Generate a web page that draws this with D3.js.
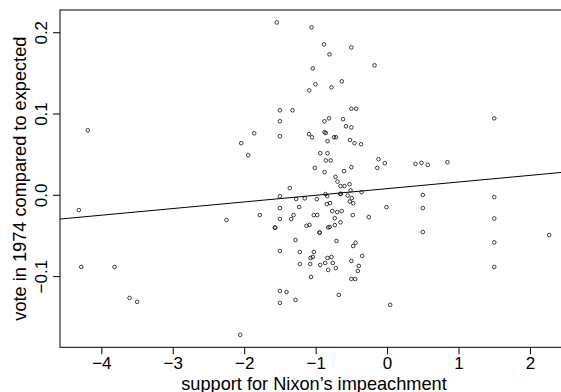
<!DOCTYPE html>
<html>
<head>
<meta charset="utf-8">
<script src="https://cdn.jsdelivr.net/npm/d3@7"></script>
<style>
  html, body { margin: 0; padding: 0; background: #fff; }
  svg { display: block; }
  text { font-family: "Liberation Sans", Arial, Helvetica, sans-serif; fill: #000; }
</style>
</head>
<body>
<svg id="chart" width="561" height="392"></svg>
<script>
// support for Nixon's impeachment (x) and vote in 1974 compared to expected (y)
const supportImpeach = [
  -4.189, -4.315, -4.281, -3.815, -3.605, -3.498, -2.248, -2.056, -2.042, -1.944,
  -1.860, -1.782, -1.572, -1.566, -1.544, -1.5, -1.5, -1.5, -1.5, -1.5,
  -1.5, -1.5, -1.5, -1.5, -1.408, -1.362, -1.342, -1.324, -1.310, -1.282,
  -1.282, -1.272, -1.230, -1.222, -1.222, -1.152, -1.128, -1.090, -1.093, -1.086,
  -1.072, -1.076, -1.065, -1.058, -1.051, -1.040, -1.040, -1.026, -1.026, -1.012,
  -1.002, -0.984, -0.978, -0.946, -0.944, -0.936, -0.936, -0.883, -0.876, -0.876,
  -0.858, -0.876, -0.866, -0.862, -0.858, -0.838, -0.844, -0.834, -0.834, -0.834,
  -0.824, -0.824, -0.813, -0.806, -0.803, -0.799, -0.789, -0.778, -0.778, -0.768,
  -0.760, -0.743, -0.715, -0.732, -0.732, -0.722, -0.718, -0.708, -0.698, -0.694,
  -0.676, -0.656, -0.648, -0.652, -0.652, -0.635, -0.634, -0.617, -0.603, -0.596,
  -0.575, -0.551, -0.526, -0.522, -0.519, -0.512, -0.5, -0.5, -0.5, -0.5,
  -0.5, -0.5, -0.494, -0.480, -0.474, -0.474, -0.456, -0.446, -0.442, -0.432,
  -0.410, -0.396, -0.365, -0.358, -0.348, -0.256, -0.176, -0.137, -0.120, -0.032,
  -0.008, 0.043, 0.397, 0.481, 0.570, 0.5, 0.5, 0.5, 0.845, 1.5,
  1.5, 1.5, 1.5, 1.5, 2.269
];
const voteVsExpected = [
  0.0794, -0.0188, -0.0887, -0.0887, -0.1268, -0.1317, -0.0311, -0.1722, 0.0635, 0.0487,
  0.0757, -0.0249, -0.0401, -0.0405, 0.2120, 0.1040, 0.0905, 0.0721, -0.0018, -0.0163,
  -0.0298, -0.0691, -0.1184, -0.1329, -0.1197, 0.0082, -0.0298, 0.1040, -0.0249, -0.0556,
  -0.1292, -0.0052, -0.0150, -0.0703, -0.0851, -0.0043, -0.0381, 0.1285, 0.0746, -0.0371,
  -0.0777, -0.0851, -0.1010, 0.2060, 0.0708, 0.1555, -0.0765, -0.0249, -0.0702, 0.0331,
  0.1360, -0.0053, -0.0249, -0.0463, -0.0466, 0.0512, -0.0863, 0.1850, 0.0905, 0.0771,
  0.0761, 0.0279, -0.0838, 0.0009, 0.0423, -0.0018, -0.0114, 0.0660, 0.0512, -0.0777,
  -0.0401, -0.0924, 0.0941, 0.1728, -0.0395, -0.0102, 0.0423, 0.1322, -0.0765, -0.0200,
  -0.0838, 0.0708, 0.0708, -0.0288, -0.0372, 0.0221, -0.0902, -0.0568, -0.0212, 0.0163,
  -0.1231, 0.0012, 0.0012, 0.0108, -0.0338, -0.0200, 0.1396, 0.0930, 0.0291, 0.0108,
  0.0843, -0.0009, 0.0131, -0.0082, 0.0675, 0.0055, 0.1813, 0.1059, 0.0829, 0.0340,
  -0.0814, -0.1035, -0.0041, -0.0249, -0.0104, -0.0630, 0.0635, -0.1035, -0.0589, 0.1059,
  -0.0937, -0.0875, 0.0622, 0.0033, -0.0752, -0.0274, 0.1593, 0.0331, 0.0439, 0.0389,
  -0.0151, -0.1354, 0.0381, 0.0393, 0.0368, -0.0002, -0.0163, -0.0458, 0.0401, 0.0941,
  -0.0028, -0.0291, -0.0585, -0.0887, -0.0495
];
const fitCoef = [0.0076, 0.00817]; // intercept, slope
const xTicks = [-4, -3, -2, -1, 0, 1, 2];
const xTickLabels = ["\u22124", "\u22123", "\u22122", "\u22121", "0", "1", "2"];
const yTicks = [-0.1, 0.0, 0.1, 0.2];
const yTickLabels = ["\u22120.1", "0.0", "0.1", "0.2"];
const xTitle = "support for Nixon\u2019s impeachment";
const yTitle = "vote in 1974 compared to expected";

(function () {
const svg = d3.select("#chart");
const pLeft = 60, pTop = 10, pBottom = 347.3, pRight = 568;
const fsTick = 17, fsTitle = 18.2;

function padExtent(arr) {
  const [a, b] = d3.extent(arr);
  const p = (b - a) * 0.04;
  return [a - p, b + p];
}
const x = d3.scaleLinear().domain(padExtent(supportImpeach)).range([pLeft, pRight]);
const y = d3.scaleLinear().domain(padExtent(voteVsExpected)).range([pBottom, pTop]);

svg.append("defs").append("clipPath").attr("id", "clip")
  .append("rect").attr("x", pLeft).attr("y", pTop)
  .attr("width", pRight - pLeft).attr("height", pBottom - pTop);

// regression line
const xd = x.domain();
svg.append("line")
  .attr("clip-path", "url(#clip)")
  .attr("x1", x(xd[0])).attr("y1", y(fitCoef[0] + fitCoef[1] * xd[0]))
  .attr("x2", x(xd[1])).attr("y2", y(fitCoef[0] + fitCoef[1] * xd[1]))
  .attr("stroke", "#000").attr("stroke-width", 1);

// points
const pts = supportImpeach.map((v, i) => [v, voteVsExpected[i]]);
svg.append("g").selectAll("circle").data(pts).join("circle")
  .attr("cx", d => x(d[0])).attr("cy", d => y(d[1]))
  .attr("r", 1.8).attr("fill", "none")
  .attr("stroke", "#000").attr("stroke-width", 0.75);

// box
svg.append("rect").attr("x", pLeft).attr("y", pTop)
  .attr("width", pRight - pLeft).attr("height", pBottom - pTop)
  .attr("fill", "none").attr("stroke", "#000").attr("stroke-width", 1);

// x axis
const gx = svg.append("g").attr("transform", `translate(0,${pBottom})`)
  .call(d3.axisBottom(x).tickValues(xTicks)
    .tickFormat((d, i) => xTickLabels[i]).tickSize(7).tickPadding(2.3));
gx.select(".domain").remove();
gx.selectAll(".tick line").attr("stroke", "#000");
gx.selectAll(".tick text").attr("font-size", fsTick).attr("font-family", null).attr("fill", "#000");

// y axis
const gy = svg.append("g").attr("transform", `translate(${pLeft},0)`)
  .call(d3.axisLeft(y).tickValues(yTicks)
    .tickFormat((d, i) => yTickLabels[i]).tickSize(7));
gy.select(".domain").remove();
gy.selectAll(".tick line").attr("stroke", "#000");
gy.selectAll(".tick text")
  .attr("font-size", fsTick).attr("font-family", null).attr("fill", "#000")
  .attr("transform", "rotate(-90)")
  .attr("x", 0).attr("y", -13).attr("dy", 0)
  .attr("text-anchor", "middle");

// titles
svg.append("text").attr("x", (pLeft + pRight) / 2).attr("y", 389.5)
  .attr("text-anchor", "middle").attr("font-size", fsTitle).text(xTitle);
svg.append("text")
  .attr("transform", `translate(25.5,${(pTop + pBottom) / 2}) rotate(-90)`)
  .attr("text-anchor", "middle").attr("font-size", fsTitle).text(yTitle);
})();
</script>
</body>
</html>
